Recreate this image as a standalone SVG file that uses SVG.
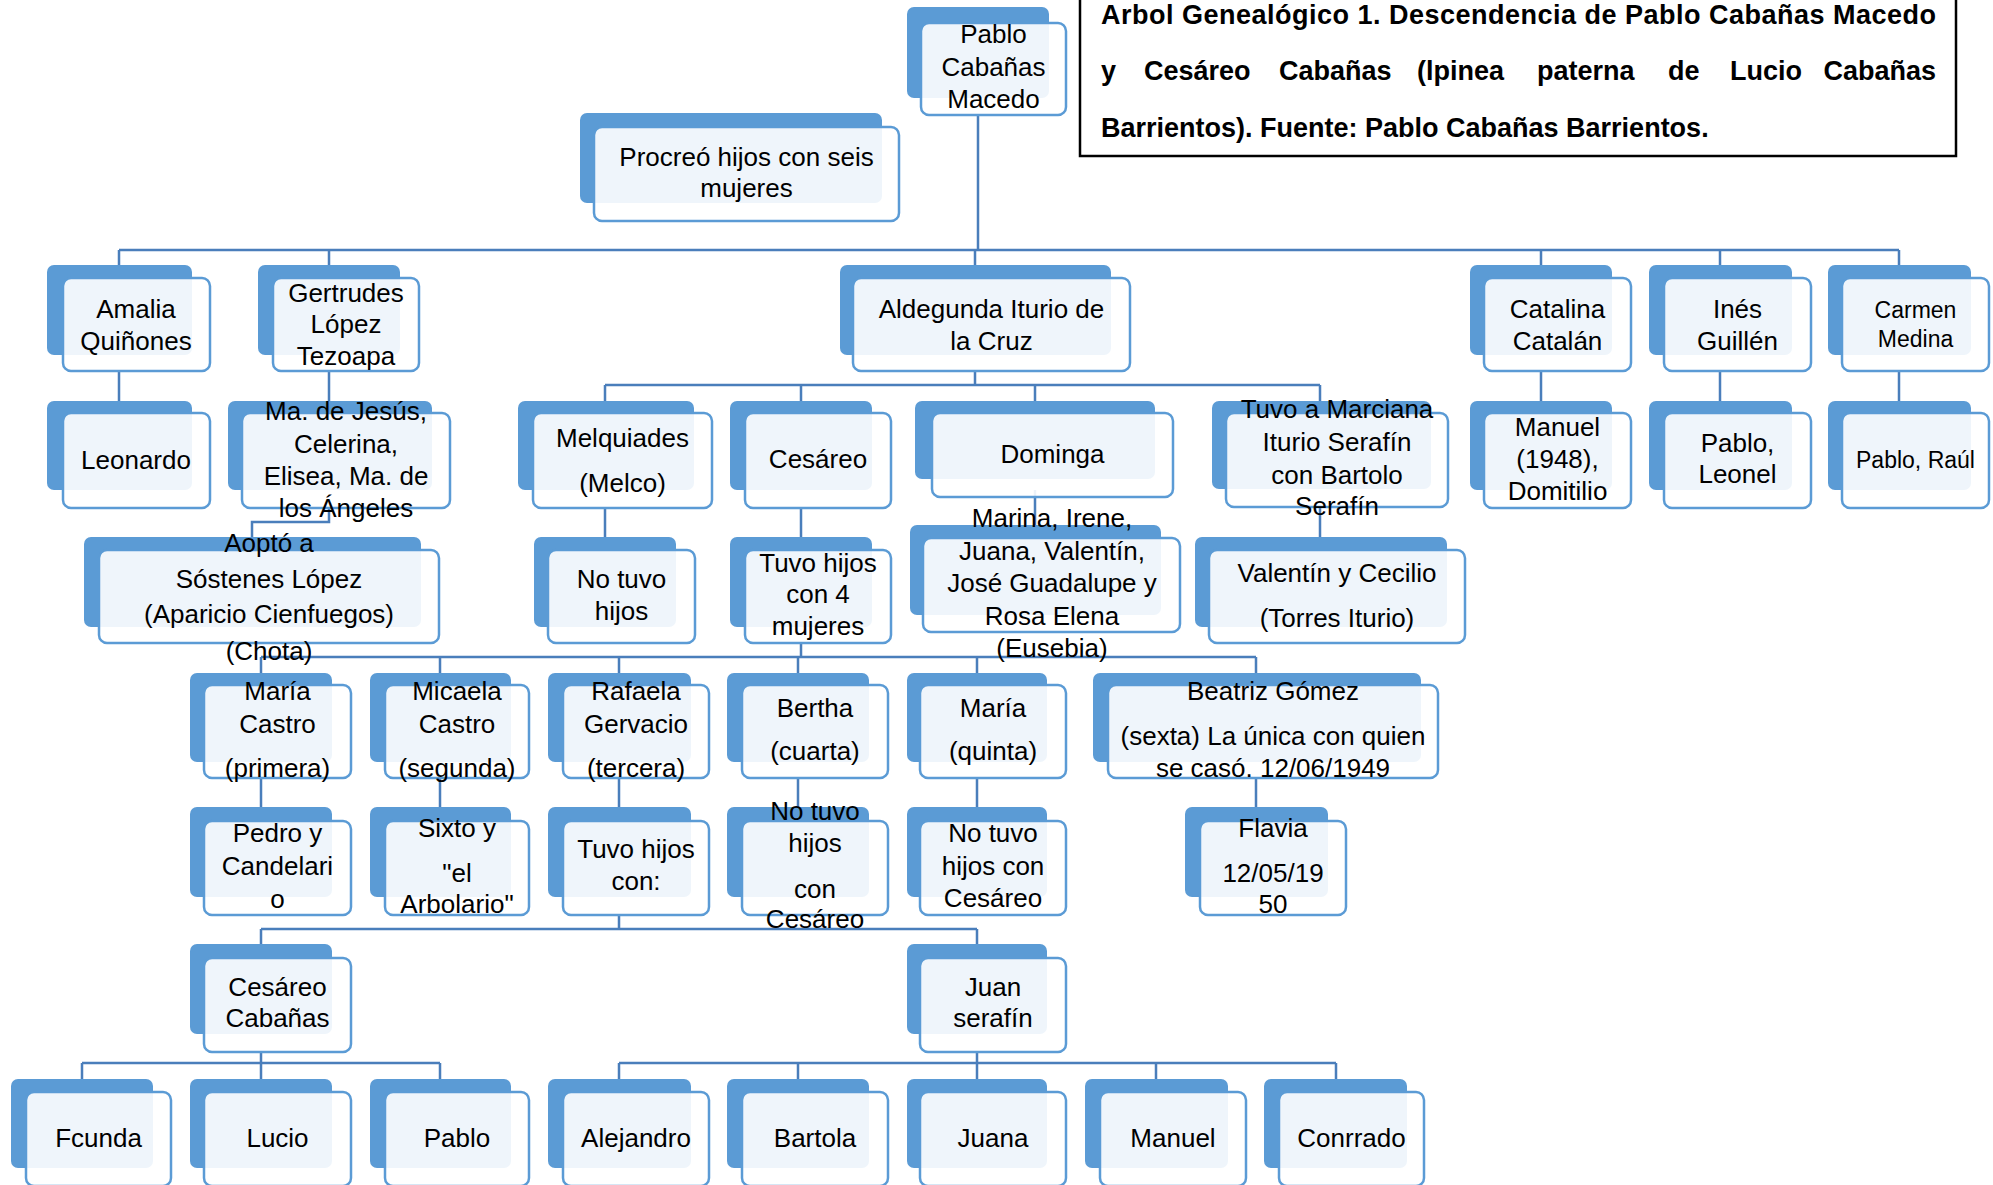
<svg xmlns="http://www.w3.org/2000/svg" width="1993" height="1185" viewBox="0 0 1993 1185">
<style>
.bk{fill:#5B9BD5}
.fr{fill:#fff;fill-opacity:0.9;stroke:#5B9BD5;stroke-width:2.5}
.t{font-family:"Liberation Sans",Arial,sans-serif;font-size:26px;fill:#000;text-anchor:middle}
.s{font-size:23px}
.c{stroke:#4A7EBB;stroke-width:2.5;fill:none}
.ti{font-family:"Liberation Sans",Arial,sans-serif;font-size:27px;font-weight:bold;fill:#000}
</style>
<rect width="1993" height="1185" fill="#fff"/>
<g id="connectors" class="c">
<path d="M978,115V250M119,250H1899M119,250V265M329,250V265M975,250V265M1541,250V265M1720,250V265M1899,250V265"/>
<path d="M119,371V401M329,371V401M1541,371V401M1720,371V401M1899,371V401"/>
<path d="M975,371V385M605,385H1320M605,385V401M801,385V401M1035,385V401M1320,385V401"/>
<path d="M329,508V522H252V537M605,508V537M801,508V537M1035,490V525M1320,507V537"/>
<path d="M801,643V657M261,657H1256M261,657V673M440,657V673M619,657V673M798,657V673M977,657V673M1256,657V673"/>
<path d="M261,778V807M440,778V807M619,778V807M798,778V807M977,778V807M1256,778V807"/>
<path d="M619,915V929M261,929H977M261,929V944M977,929V944"/>
<path d="M261,1052V1063M82,1063H440M82,1063V1079M261,1063V1079M440,1063V1079"/>
<path d="M977,1052V1063M619,1063H1336M619,1063V1079M798,1063V1079M977,1063V1079M1156,1063V1079M1336,1063V1079"/>
</g>
<g id="title">
<rect x="1080" y="-5" width="876" height="161" fill="#fff" stroke="#000" stroke-width="2.5"/>
<text class="ti" x="1101" y="24" textLength="835" lengthAdjust="spacing">Arbol Genealógico 1. Descendencia de Pablo Cabañas Macedo</text>
<text class="ti" y="80"><tspan x="1101">y</tspan><tspan x="1144">Cesáreo</tspan><tspan x="1279">Cabañas</tspan><tspan x="1417">(lpinea</tspan><tspan x="1537">paterna</tspan><tspan x="1668">de</tspan><tspan x="1730">Lucio</tspan></text>
<text class="ti" x="1936" y="80" text-anchor="end">Cabañas</text>
<text class="ti" x="1101" y="137">Barrientos). Fuente: Pablo Cabañas Barrientos.</text>
</g>
<g id="n-pablo"><rect class="bk" x="907" y="7" width="142" height="91" rx="7"/><rect class="fr" x="921" y="23" width="145" height="92" rx="8"/><text class="t"><tspan x="993.5" y="43">Pablo</tspan><tspan x="993.5" y="76">Cabañas</tspan><tspan x="993.5" y="108">Macedo</tspan></text></g>
<g id="n-procreo"><rect class="bk" x="580" y="113" width="302" height="90" rx="7"/><rect class="fr" x="594" y="127" width="305" height="94" rx="8"/><text class="t"><tspan x="746.5" y="166">Procreó hijos con seis</tspan><tspan x="746.5" y="197">mujeres</tspan></text></g>
<g id="n-amalia"><rect class="bk" x="47" y="265" width="145" height="90" rx="7"/><rect class="fr" x="63" y="278" width="147" height="93" rx="8"/><text class="t"><tspan x="136" y="318">Amalia</tspan><tspan x="136" y="350">Quiñones</tspan></text></g>
<g id="n-gertrudes"><rect class="bk" x="258" y="265" width="142" height="90" rx="7"/><rect class="fr" x="273" y="278" width="146" height="93" rx="8"/><text class="t"><tspan x="346" y="302">Gertrudes</tspan><tspan x="346" y="333">López</tspan><tspan x="346" y="365">Tezoapa</tspan></text></g>
<g id="n-aldegunda"><rect class="bk" x="840" y="265" width="271" height="90" rx="7"/><rect class="fr" x="853" y="278" width="277" height="93" rx="8"/><text class="t"><tspan x="991.5" y="318">Aldegunda Iturio de</tspan><tspan x="991.5" y="350">la Cruz</tspan></text></g>
<g id="n-catalina"><rect class="bk" x="1470" y="265" width="142" height="90" rx="7"/><rect class="fr" x="1484" y="278" width="147" height="93" rx="8"/><text class="t"><tspan x="1557.5" y="318">Catalina</tspan><tspan x="1557.5" y="350">Catalán</tspan></text></g>
<g id="n-ines"><rect class="bk" x="1649" y="265" width="143" height="90" rx="7"/><rect class="fr" x="1664" y="278" width="147" height="93" rx="8"/><text class="t"><tspan x="1737.5" y="318">Inés</tspan><tspan x="1737.5" y="350">Guillén</tspan></text></g>
<g id="n-carmen"><rect class="bk" x="1828" y="265" width="143" height="90" rx="7"/><rect class="fr" x="1842" y="278" width="147" height="93" rx="8"/><text class="t s"><tspan x="1915.5" y="318">Carmen</tspan><tspan x="1915.5" y="347">Medina</tspan></text></g>
<g id="n-leonardo"><rect class="bk" x="47" y="401" width="145" height="89" rx="7"/><rect class="fr" x="63" y="413" width="147" height="95" rx="8"/><text class="t"><tspan x="136" y="469">Leonardo</tspan></text></g>
<g id="n-majesus"><rect class="bk" x="228" y="401" width="204" height="89" rx="7"/><rect class="fr" x="242" y="413" width="208" height="95" rx="8"/><text class="t"><tspan x="346" y="420">Ma. de Jesús,</tspan><tspan x="346" y="453">Celerina,</tspan><tspan x="346" y="485">Elisea, Ma. de</tspan><tspan x="346" y="517">los Ángeles</tspan></text></g>
<g id="n-melquiades"><rect class="bk" x="518" y="401" width="176" height="89" rx="7"/><rect class="fr" x="533" y="413" width="179" height="95" rx="8"/><text class="t"><tspan x="622.5" y="447">Melquiades</tspan><tspan x="622.5" y="492">(Melco)</tspan></text></g>
<g id="n-cesareo"><rect class="bk" x="730" y="401" width="142" height="89" rx="7"/><rect class="fr" x="745" y="413" width="146" height="95" rx="8"/><text class="t"><tspan x="818" y="468">Cesáreo</tspan></text></g>
<g id="n-dominga"><rect class="bk" x="915" y="401" width="240" height="78" rx="7"/><rect class="fr" x="932" y="413" width="241" height="84" rx="8"/><text class="t"><tspan x="1052.5" y="463">Dominga</tspan></text></g>
<g id="n-marciana"><rect class="bk" x="1212" y="401" width="219" height="88" rx="7"/><rect class="fr" x="1226" y="413" width="222" height="94" rx="8"/><text class="t"><tspan x="1337" y="418">Tuvo a Marciana</tspan><tspan x="1337" y="451">Iturio Serafín</tspan><tspan x="1337" y="484">con Bartolo</tspan><tspan x="1337" y="515">Serafín</tspan></text></g>
<g id="n-manuel1948"><rect class="bk" x="1470" y="401" width="142" height="89" rx="7"/><rect class="fr" x="1484" y="413" width="147" height="95" rx="8"/><text class="t"><tspan x="1557.5" y="436">Manuel</tspan><tspan x="1557.5" y="468">(1948),</tspan><tspan x="1557.5" y="500">Domitilio</tspan></text></g>
<g id="n-pabloleonel"><rect class="bk" x="1649" y="401" width="143" height="89" rx="7"/><rect class="fr" x="1664" y="413" width="147" height="95" rx="8"/><text class="t"><tspan x="1737.5" y="452">Pablo,</tspan><tspan x="1737.5" y="483">Leonel</tspan></text></g>
<g id="n-pabloraul"><rect class="bk" x="1828" y="401" width="143" height="89" rx="7"/><rect class="fr" x="1842" y="413" width="147" height="95" rx="8"/><text class="t s"><tspan x="1915.5" y="468">Pablo, Raúl</tspan></text></g>
<g id="n-aopto"><rect class="bk" x="84" y="537" width="337" height="90" rx="7"/><rect class="fr" x="99" y="550" width="340" height="93" rx="8"/><text class="t"><tspan x="269" y="552">Aoptó a</tspan><tspan x="269" y="588">Sóstenes López</tspan><tspan x="269" y="623">(Aparicio Cienfuegos)</tspan><tspan x="269" y="660">(Chota)</tspan></text></g>
<g id="n-notuvo"><rect class="bk" x="534" y="537" width="142" height="90" rx="7"/><rect class="fr" x="548" y="550" width="147" height="93" rx="8"/><text class="t"><tspan x="621.5" y="588">No tuvo</tspan><tspan x="621.5" y="620">hijos</tspan></text></g>
<g id="n-tuvo4"><rect class="bk" x="730" y="537" width="142" height="90" rx="7"/><rect class="fr" x="745" y="550" width="146" height="93" rx="8"/><text class="t"><tspan x="818" y="572">Tuvo hijos</tspan><tspan x="818" y="603">con 4</tspan><tspan x="818" y="635">mujeres</tspan></text></g>
<g id="n-marina"><rect class="bk" x="910" y="525" width="251" height="90" rx="7"/><rect class="fr" x="923" y="538" width="257" height="94" rx="8"/><text class="t"><tspan x="1052" y="527">Marina, Irene,</tspan><tspan x="1052" y="560">Juana, Valentín,</tspan><tspan x="1052" y="592">José Guadalupe y</tspan><tspan x="1052" y="625">Rosa Elena</tspan><tspan x="1052" y="657">(Eusebia)</tspan></text></g>
<g id="n-valentin"><rect class="bk" x="1195" y="537" width="252" height="90" rx="7"/><rect class="fr" x="1209" y="550" width="256" height="93" rx="8"/><text class="t"><tspan x="1337" y="582">Valentín y Cecilio</tspan><tspan x="1337" y="627">(Torres Iturio)</tspan></text></g>
<g id="n-mariacastro"><rect class="bk" x="190" y="673" width="142" height="89" rx="7"/><rect class="fr" x="204" y="685" width="147" height="93" rx="8"/><text class="t"><tspan x="277.5" y="700">María</tspan><tspan x="277.5" y="733">Castro</tspan><tspan x="277.5" y="777">(primera)</tspan></text></g>
<g id="n-micaela"><rect class="bk" x="370" y="673" width="141" height="89" rx="7"/><rect class="fr" x="385" y="685" width="144" height="93" rx="8"/><text class="t"><tspan x="457" y="700">Micaela</tspan><tspan x="457" y="733">Castro</tspan><tspan x="457" y="777">(segunda)</tspan></text></g>
<g id="n-rafaela"><rect class="bk" x="548" y="673" width="143" height="89" rx="7"/><rect class="fr" x="563" y="685" width="146" height="93" rx="8"/><text class="t"><tspan x="636" y="700">Rafaela</tspan><tspan x="636" y="733">Gervacio</tspan><tspan x="636" y="777">(tercera)</tspan></text></g>
<g id="n-bertha"><rect class="bk" x="727" y="673" width="142" height="89" rx="7"/><rect class="fr" x="742" y="685" width="146" height="93" rx="8"/><text class="t"><tspan x="815" y="717">Bertha</tspan><tspan x="815" y="760">(cuarta)</tspan></text></g>
<g id="n-mariaquinta"><rect class="bk" x="907" y="673" width="140" height="89" rx="7"/><rect class="fr" x="920" y="685" width="146" height="93" rx="8"/><text class="t"><tspan x="993" y="717">María</tspan><tspan x="993" y="760">(quinta)</tspan></text></g>
<g id="n-beatriz"><rect class="bk" x="1093" y="673" width="328" height="89" rx="7"/><rect class="fr" x="1108" y="685" width="330" height="93" rx="8"/><text class="t"><tspan x="1273" y="700">Beatriz Gómez</tspan><tspan x="1273" y="745">(sexta) La única con quien</tspan><tspan x="1273" y="777">se casó. 12/06/1949</tspan></text></g>
<g id="n-pedro"><rect class="bk" x="190" y="807" width="142" height="90" rx="7"/><rect class="fr" x="204" y="821" width="147" height="94" rx="8"/><text class="t"><tspan x="277.5" y="842">Pedro y</tspan><tspan x="277.5" y="875">Candelari</tspan><tspan x="277.5" y="908">o</tspan></text></g>
<g id="n-sixto"><rect class="bk" x="370" y="807" width="141" height="90" rx="7"/><rect class="fr" x="385" y="821" width="144" height="94" rx="8"/><text class="t"><tspan x="457" y="837">Sixto y</tspan><tspan x="457" y="882">"el</tspan><tspan x="457" y="913">Arbolario"</tspan></text></g>
<g id="n-tuvocon"><rect class="bk" x="548" y="807" width="143" height="90" rx="7"/><rect class="fr" x="563" y="821" width="146" height="94" rx="8"/><text class="t"><tspan x="636" y="858">Tuvo hijos</tspan><tspan x="636" y="890">con:</tspan></text></g>
<g id="n-notuvo-bertha"><rect class="bk" x="727" y="807" width="142" height="90" rx="7"/><rect class="fr" x="742" y="821" width="146" height="94" rx="8"/><text class="t"><tspan x="815" y="820">No tuvo</tspan><tspan x="815" y="852">hijos</tspan><tspan x="815" y="898">con</tspan><tspan x="815" y="928">Cesáreo</tspan></text></g>
<g id="n-notuvo-maria"><rect class="bk" x="907" y="807" width="140" height="90" rx="7"/><rect class="fr" x="920" y="821" width="146" height="94" rx="8"/><text class="t"><tspan x="993" y="842">No tuvo</tspan><tspan x="993" y="875">hijos con</tspan><tspan x="993" y="907">Cesáreo</tspan></text></g>
<g id="n-flavia"><rect class="bk" x="1185" y="807" width="143" height="90" rx="7"/><rect class="fr" x="1200" y="821" width="146" height="94" rx="8"/><text class="t"><tspan x="1273" y="837">Flavia</tspan><tspan x="1273" y="882">12/05/19</tspan><tspan x="1273" y="913">50</tspan></text></g>
<g id="n-cesareocabanas"><rect class="bk" x="190" y="944" width="142" height="90" rx="7"/><rect class="fr" x="204" y="958" width="147" height="94" rx="8"/><text class="t"><tspan x="277.5" y="996">Cesáreo</tspan><tspan x="277.5" y="1027">Cabañas</tspan></text></g>
<g id="n-juan"><rect class="bk" x="907" y="944" width="140" height="90" rx="7"/><rect class="fr" x="920" y="958" width="146" height="94" rx="8"/><text class="t"><tspan x="993" y="996">Juan</tspan><tspan x="993" y="1027">serafín</tspan></text></g>
<g id="n-fcunda"><rect class="bk" x="11" y="1079" width="142" height="89" rx="7"/><rect class="fr" x="26" y="1092" width="145" height="94" rx="8"/><text class="t"><tspan x="98.5" y="1147">Fcunda</tspan></text></g>
<g id="n-lucio"><rect class="bk" x="190" y="1079" width="142" height="89" rx="7"/><rect class="fr" x="204" y="1092" width="147" height="94" rx="8"/><text class="t"><tspan x="277.5" y="1147">Lucio</tspan></text></g>
<g id="n-pablo2"><rect class="bk" x="370" y="1079" width="141" height="89" rx="7"/><rect class="fr" x="385" y="1092" width="144" height="94" rx="8"/><text class="t"><tspan x="457" y="1147">Pablo</tspan></text></g>
<g id="n-alejandro"><rect class="bk" x="548" y="1079" width="143" height="89" rx="7"/><rect class="fr" x="563" y="1092" width="146" height="94" rx="8"/><text class="t"><tspan x="636" y="1147">Alejandro</tspan></text></g>
<g id="n-bartola"><rect class="bk" x="727" y="1079" width="142" height="89" rx="7"/><rect class="fr" x="742" y="1092" width="146" height="94" rx="8"/><text class="t"><tspan x="815" y="1147">Bartola</tspan></text></g>
<g id="n-juana"><rect class="bk" x="907" y="1079" width="140" height="89" rx="7"/><rect class="fr" x="920" y="1092" width="146" height="94" rx="8"/><text class="t"><tspan x="993" y="1147">Juana</tspan></text></g>
<g id="n-manuel"><rect class="bk" x="1085" y="1079" width="143" height="89" rx="7"/><rect class="fr" x="1100" y="1092" width="146" height="94" rx="8"/><text class="t"><tspan x="1173" y="1147">Manuel</tspan></text></g>
<g id="n-conrrado"><rect class="bk" x="1264" y="1079" width="143" height="89" rx="7"/><rect class="fr" x="1279" y="1092" width="145" height="94" rx="8"/><text class="t"><tspan x="1351.5" y="1147">Conrrado</tspan></text></g>
</svg>
